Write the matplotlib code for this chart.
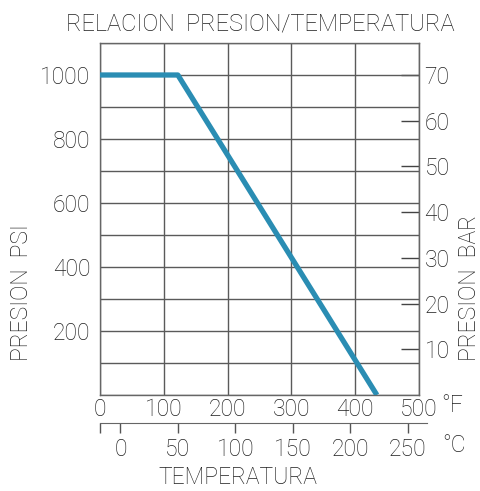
import numpy as np
import matplotlib
matplotlib.use('Agg')
import matplotlib.pyplot as plt

plt.rcParams['font.family'] = ['Roboto', 'DejaVu Sans']
plt.rcParams['font.weight'] = 'light'

# data
temp_f = [0, 122, 434]
presion_psi = [1000, 1000, 0]
psi_ticks = [200, 400, 600, 800, 1000]
bar_ticks = [10, 20, 30, 40, 50, 60, 70]
f_ticks = [0, 100, 200, 300, 400, 500]
c_ticks = [0, 50, 100, 150, 200, 250]

txt = '#1e1e1e'
grid_c = '#5a5a5a'
fs = 16.5

def f2c(f):
    return (f - 32) / 1.8

W, H = 481, 491
fig = plt.figure(figsize=(W/100, H/100), dpi=100)
ax = fig.add_axes([100/W, 1-395/H, 319/W, 352/H])

ax.plot(temp_f, presion_psi, color='#2a8db3', lw=3.8,
        solid_capstyle='butt', zorder=3)
ax.set_xlim(0, 500)
ax.set_ylim(0, 1100)
ax.set_xticks(np.arange(0, 501, 100))
ax.set_yticks(np.arange(0, 1101, 100))
ax.grid(True, color=grid_c, lw=1.0)
ax.tick_params(length=0, labelsize=fs, labelcolor=txt)
ax.set_yticklabels(['' if v not in psi_ticks else str(v)
                    for v in range(0, 1101, 100)])
ax.set_xticklabels([str(v) for v in f_ticks])
ax.tick_params(axis='x', pad=2)
ax.tick_params(axis='y', pad=7)
for s in ax.spines.values():
    s.set_color('#666666')
    s.set_linewidth(1.0)

sec = ax.secondary_yaxis('right', functions=(lambda p: p*0.07,
                                             lambda b: b/0.07))
sec.set_yticks(bar_ticks)
sec.tick_params(direction='in', length=13, width=1.0, color='#444444',
                labelsize=fs, labelcolor=txt, pad=4)
sec.spines['right'].set_color('#666666')

# celsius scale below
f_lo, f_hi = 0, 512
cax = fig.add_axes([100/W, 1-423/H, (f_hi/500*319)/W, 0.001])
cax.set_xlim(f2c(f_lo), f2c(f_hi))
cax.set_xticks(c_ticks)
cax.set_xticks([f2c(f_lo)], minor=True)
cax.tick_params(axis='x', direction='out', length=7.5, width=1.0,
                color='#555555', labelsize=fs, labelcolor=txt, pad=3)
cax.tick_params(axis='x', which='minor', direction='out', length=7.5,
                width=1.0, color='#555555')
cax.set_yticks([])
for k in ['top', 'left', 'right']:
    cax.spines[k].set_visible(False)
cax.spines['bottom'].set_color('#666666')
cax.patch.set_visible(False)

fig.text(452/W, 1-405/H, '°F', fontsize=fs, color=txt,
         ha='center', va='center')
fig.text(454/W, 1-445/H, '°C', fontsize=fs, color=txt,
         ha='center', va='center')
fig.text(238/W, 1-477/H, 'TEMPERATURA', fontsize=fs, color=txt,
         ha='center', va='center')
fig.text(260/W, 1-24/H, 'RELACION  PRESION/TEMPERATURA', fontsize=17,
         color=txt, ha='center', va='center')
fig.text(21/W, 1-293/H, 'PRESION  PSI', fontsize=fs, color=txt,
         ha='center', va='center', rotation=90)
fig.text(469/W, 1-288/H, 'PRESION  BAR', fontsize=fs, color=txt,
         ha='center', va='center', rotation=90)

fig.savefig('out.png', dpi=100)
